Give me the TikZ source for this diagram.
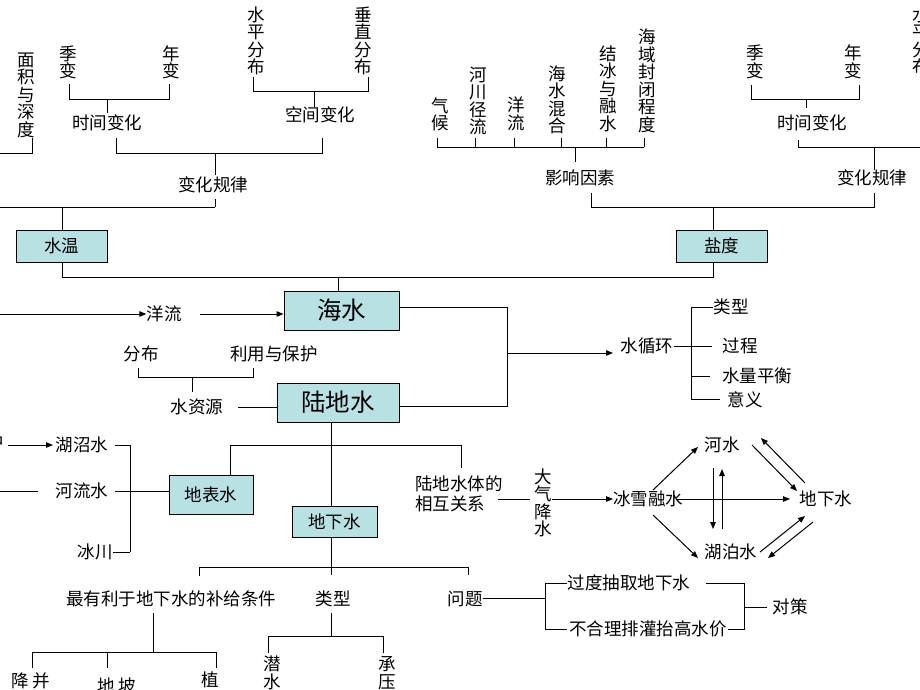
\documentclass[tikz,border=0pt]{standalone}
\usepackage{fontspec}
\newfontfamily\cjk{Noto Sans CJK SC}
\usetikzlibrary{arrows.meta}
\definecolor{boxc}{RGB}{185,225,228}
\begin{document}
\begin{tikzpicture}[x=1pt,y=-1pt,
  t/.style={font=\cjk\fontsize{17.5}{17.5}\selectfont, inner sep=0pt},
  vt/.style={t, align=center},
  big/.style={font=\cjk\fontsize{24.5}{24.5}\selectfont, inner sep=0pt},
  bx/.style={draw, fill=boxc, line width=1pt, inner sep=0pt},
  ln/.style={line width=1pt},
  ar/.style={line width=1pt, -{Triangle[length=7pt,width=5.5pt]}},
]
\useasboundingbox (0,0) rectangle (920,690);

% ---------- boxes ----------
\node[bx,t,minimum width=91pt,minimum height=32pt] (sw) at (61.5,246) {水温};
\node[bx,t,minimum width=91pt,minimum height=32pt] (yd) at (721.5,246) {盐度};
\node[bx,big,minimum width=115pt,minimum height=39pt] (hsw) at (341.5,310.5) {海水};
\node[bx,big,minimum width=122pt,minimum height=39pt] (ldw) at (338,402.5) {陆地水};
\node[bx,t,minimum width=84pt,minimum height=39pt] (dbs) at (211,494.5) {地表水};
\node[bx,t,minimum width=85pt,minimum height=31pt] (dxs) at (334.5,521.5) {地下水};

% ---------- top left (水温) ----------
\node[vt] (mj) at (26,95) {面\\积\\与\\深\\度};
\node[vt] (jb1) at (68,62.5) {季\\变};
\node[vt] (nb1) at (171,62.5) {年\\变};
\node[t] (sj1) at (107,123) {时间变化};
\node[vt] (sp1) at (256,41) {水\\平\\分\\布};
\node[vt] (cz1) at (363,41) {垂\\直\\分\\布};
\node[t] (kj1) at (320,115) {空间变化};
\node[t] (gl1) at (213,185) {变化规律};

\draw[ln] (0,153) -- (32,153) -- (32,138);
\draw[ln] (69,84) -- (69,100) -- (169,100) -- (169,84);
\draw[ln] (107,100) -- (107,113);
\draw[ln] (253,77) -- (253,92) -- (368,92) -- (368,77);
\draw[ln] (314,92) -- (314,107);
\draw[ln] (116,138) -- (116,153) -- (322,153) -- (322,138);
\draw[ln] (215,153) -- (215,175);
\draw[ln] (215,199) -- (215,207);
\draw[ln] (0,207) -- (215,207);
\draw[ln] (62,207) -- (sw.north -| 62,0);

% ---------- top right (盐度) ----------
\node[vt] (qh) at (440,114.5) {气\\候};
\node[vt] (hc) at (478,101) {河\\川\\径\\流};
\node[vt] (ylv) at (516,114) {洋\\流};
\node[vt] (hh) at (557,100) {海\\水\\混\\合};
\node[vt] (jbr) at (608,88.5) {结\\冰\\与\\融\\水};
\node[vt] (hy) at (647,81) {海\\域\\封\\闭\\程\\度};
\node[t] (yx) at (580,178) {影响因素};
\node[vt] (jb2) at (755,62) {季\\变};
\node[vt] (nb2) at (853,62) {年\\变};
\node[t] (sj2) at (812,123) {时间变化};
\node[t] (gl2) at (872,178) {变化规律};
\node[vt] (sp2) at (921,41) {水\\平\\分\\布};

\foreach \x in {437,475,514,561,606,644} \draw[ln] (\x,138) -- (\x,147);
\draw[ln] (437,147) -- (644,147);
\draw[ln] (575,147) -- (575,162);
\draw[ln] (751,85) -- (751,100) -- (859,100) -- (859,85);
\draw[ln] (806,100) -- (806,108);
\draw[ln] (798,140) -- (798,147) -- (920,147);
\draw[ln] (874,147) -- (874,170);
\draw[ln] (591,193) -- (591,207) -- (874,207) -- (874,193);
\draw[ln] (713,207) -- (713,230);

% ---------- 海水 / 水温 / 盐度 ----------
\draw[ln] (62,262) -- (62,277) -- (713,277) -- (713,262);
\draw[ln] (338,277) -- (338,291);

\node[t] (yl) at (164,314) {洋流};
\draw[ar] (0,314) -- (yl.west);
\draw[ar] (200,314) -- (hsw.west |- 0,314);

\node[t] (fb) at (141,354) {分布};
\node[t] (lybh) at (274,354) {利用与保护};
\node[t] (szy) at (197,407) {水资源};
\draw[ln] (138,368) -- (138,377) -- (253,377) -- (253,368);
\draw[ln] (192,377) -- (192,392);
\draw[ln] (238,407) -- (ldw.west |- 0,407);

\draw[ln] (399,307) -- (507,307) -- (507,406) -- (399,406);
\node[t] (sxh) at (647,346) {水循环};
\draw[ar] (507,353) -- (613,353);
\node[t] (lx1) at (731,307) {类型};
\node[t] (gc) at (740,346) {过程};
\node[t] (slph) at (757,376) {水量平衡};
\node[t] (yy) at (745,400) {意义};
\draw[ln] (674,346) -- (712,346);
\draw[ln] (713,307) -- (691,307) -- (691,399) -- (720,399);
\draw[ln] (691,376) -- (710,376);

% ---------- 地表水 ----------
\node[t] (pc) at (-5,442) {中};
\node[t] (hzs) at (82,445) {湖沼水};
\node[t] (hls) at (82,491) {河流水};
\node[t] (bc) at (95,552) {冰川};
\draw[ar] (8,445) -- (53,445);
\draw[ln] (0,491) -- (38,491);
\draw[ln] (115,445) -- (130,445);
\draw[ln] (115,491) -- (130,491);
\draw[ln] (113,552) -- (130,552);
\draw[ln] (130,445) -- (130,552);
\draw[ln] (130,491) -- (dbs.west |- 0,491);
\draw[ln] (230,475) -- (230,445) -- (461,445) -- (461,468);

% ---------- 陆地水 stem / 地下水 ----------
\draw[ln] (331,422) -- (331,506);
\draw[ln] (331,537) -- (331,575);
\draw[ln] (199,576) -- (199,567) -- (468,567) -- (468,575);

\node[t] (bj) at (171,599) {最有利于地下水的补给条件};
\node[t] (lx2) at (333,599) {类型};
\node[t] (wt) at (465,599) {问题};

\draw[ln] (153,613) -- (153,652);
\draw[ln] (32,668) -- (32,652) -- (216,652) -- (216,668);
\draw[ln] (107,652) -- (107,668);
\draw[ln] (331,613) -- (331,636);
\draw[ln] (268,653) -- (268,636) -- (383,636) -- (383,653);

\node[t] (b1) at (31,681) {降 并};
\node[t] (b2) at (117,686) {地 坡};
\node[t] (b3) at (210,680) {植};
\node[vt] (qs) at (272,673) {潜\\水};
\node[vt] (cy) at (387,673) {承\\压};

% ---------- 问题 / 对策 ----------
\node[t] (gd) at (629,583) {过度抽取地下水};
\node[t] (bhl) at (648,629) {不合理排灌抬高水价};
\node[t] (dc) at (790,607) {对策};
\draw[ln] (483,598) -- (545,598);
\draw[ln] (567,583) -- (545,583) -- (545,629) -- (567,629);
\draw[ln] (706,583) -- (744,583) -- (744,629) -- (728,629);
\draw[ln] (744,607) -- (767,607);

% ---------- 陆地水体的相互关系 ----------
\node[font=\cjk\fontsize{17.5}{20}\selectfont, inner sep=0pt, align=left, anchor=west] (gx) at (415,494) {陆地水体的\\相互关系};
\node[vt] (dq) at (543,503) {大\\气\\降\\水};
\node[t] (bx) at (648,499) {冰雪融水};
\node[t] (hs) at (722,445) {河水};
\node[t] (hps) at (731,552) {湖泊水};
\node[t] (dx2) at (826,499) {地下水};

\draw[ln] (498,499) -- (530,499);
\draw[ar] (552,499) -- (613,499);
\draw[ar] (677,499) -- (790,499);
\draw[ar] (653,490) -- (698,447);
\draw[ar] (653,515) -- (698,558);
\draw[ar] (713,468) -- (713,529);
\draw[ar] (722,529) -- (722,469);
\draw[ar] (752,445) -- (797,491);
\draw[ar] (805,483) -- (761,438);
\draw[ar] (760,552) -- (805,516);
\draw[ar] (813,522) -- (768,558);
\end{tikzpicture}
\end{document}
